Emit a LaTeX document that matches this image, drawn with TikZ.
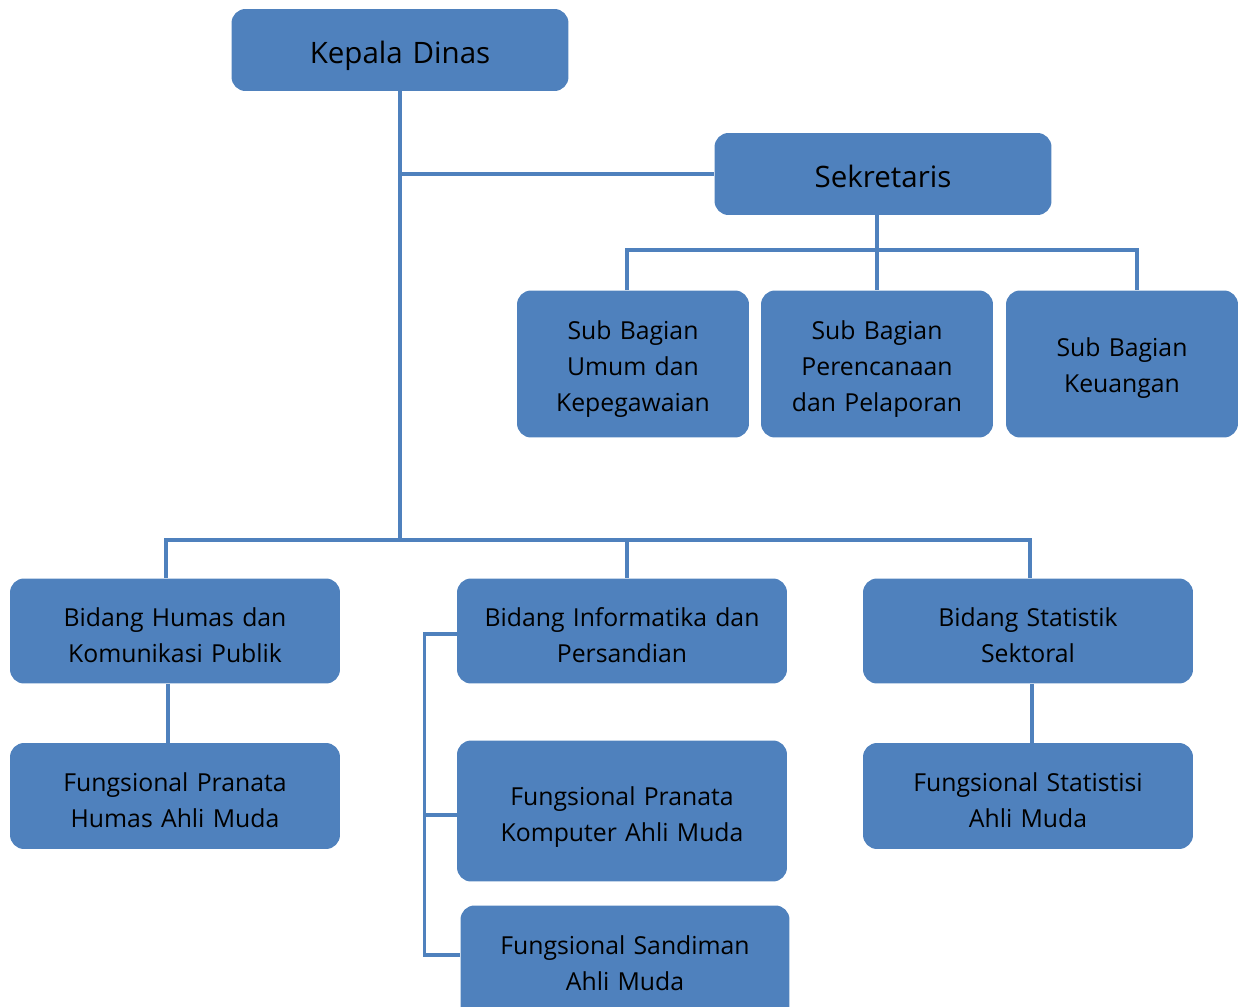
\documentclass[tikz,border=0pt]{standalone}
\usepackage{fontspec}
\setmainfont{Open Sans}
\usetikzlibrary{calc}
\definecolor{orgblue}{HTML}{4F81BD}
\begin{document}
\begin{tikzpicture}[x=0.02cm, y=-0.02cm,
    unit/.style={fill=orgblue, rounded corners=0.28cm, align=center, inner sep=0pt,
        text width=#1, font=\fontsize{14.1}{20.6}\selectfont, lift=15.5pt},
    unit/.default=4.4cm,
    lift/.style={execute at begin node={\rule{0pt}{#1}}},
    sink/.style={execute at end node={\rule[-#1]{0pt}{#1}}},
    bigtext/.style={font=\fontsize{16.8}{20}\selectfont},
    link/.style={draw=orgblue, line width=2pt}]
        \clip (0,0) rectangle (1241,1007);
        %\draw [help lines] (0,0) grid [step=100] (1241,1007);

        % pimpinan dan sekretariat
        \node [unit=6.5cm, minimum width=6.74cm, minimum height=1.64cm, bigtext, lift=19.6pt] (kepala) at (400,50) {Kepala Dinas};
        \node [unit=6.5cm, minimum width=6.74cm, minimum height=1.64cm, bigtext, lift=15pt] (sekretaris) at (883,174) {Sekretaris};

        \node [unit, minimum width=4.64cm, minimum height=2.94cm, lift=16.5pt] (umum) at (633,364) {Sub Bagian\\Umum dan\\Kepegawaian};
        \node [unit, minimum width=4.64cm, minimum height=2.94cm, lift=16.5pt] (rencana) at (877,364) {Sub Bagian\\Perencanaan\\dan Pelaporan};
        \node [unit, minimum width=4.64cm, minimum height=2.94cm] (keuangan) at (1122,364) {Sub Bagian\\Keuangan};

        % bidang
        \node [unit=6.4cm, minimum width=6.6cm, minimum height=2.1cm] (humas) at (175,631) {Bidang Humas dan\\Komunikasi Publik};
        \node [unit=6.4cm, minimum width=6.6cm, minimum height=2.1cm] (informatika) at (622,631) {Bidang Informatika dan\\Persandian};
        \node [unit=6.4cm, minimum width=6.6cm, minimum height=2.1cm] (statistik) at (1028,631) {Bidang Statistik\\Sektoral};

        % fungsional
        \node [unit=6.4cm, minimum width=6.6cm, minimum height=2.12cm] (pranatahumas) at (175,796) {Fungsional Pranata\\Humas Ahli Muda};
        \node [unit=6.4cm, minimum width=6.6cm, minimum height=2.82cm, lift=17.5pt] (komputer) at (622,811) {Fungsional Pranata\\Komputer Ahli Muda};
        \node [unit=6.4cm, minimum width=6.58cm, minimum height=2.3cm, lift=6pt, sink=4.6pt] (sandiman) at (625,963) {Fungsional Sandiman\\Ahli Muda};
        \node [unit=6.4cm, minimum width=6.6cm, minimum height=2.12cm] (statistisi) at (1028,796) {Fungsional Statistisi\\Ahli Muda};

        % garis
        \coordinate (bus) at (400,540);
        \coordinate (sbus) at (877,250);
        \draw [link] (kepala.south) -- (bus);
        \draw [link] (kepala.south |- sekretaris.west) -- (sekretaris.west);
        \draw [link] (sekretaris.south -| rencana.north) -- (rencana.north);
        \draw [link] ($(umum.north)+(-6,0)$) |- (sbus) -| ($(keuangan.north)+(15,0)$);
        \draw [link] ($(humas.north)+(-9,0)$) |- (bus) -| ($(statistik.north)+(2,0)$);
        \draw [link] (bus) -| ($(informatika.north)+(5,0)$);
        \draw [link] ($(humas.south)+(-7,0)$) -- ($(pranatahumas.north)+(-7,0)$);
        \draw [link] ($(statistik.south)+(4,0)$) -- ($(statistisi.north)+(4,0)$);
        \draw [link] ($(informatika.west)+(0,3)$) -- ++(-32,0) |- ($(sandiman.west)+(0,-8)$);
        \draw [link] ($(komputer.west)+(0,4)$) -- ++(-32,0);
\end{tikzpicture}
\end{document}
